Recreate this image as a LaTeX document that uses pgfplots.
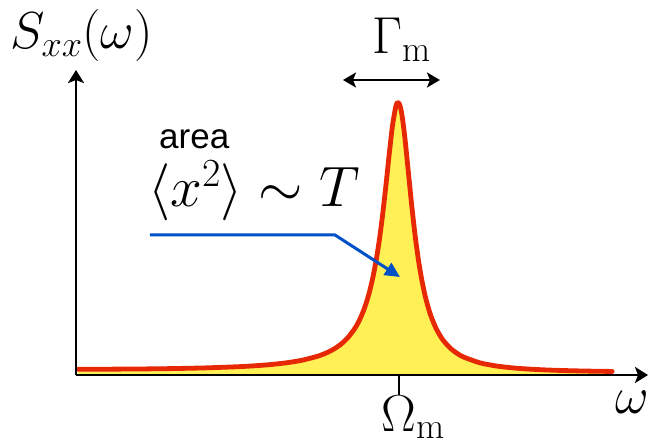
\RequirePackage{fix-cm}
\documentclass[border=0pt]{standalone}
\usepackage{fontspec}
\newfontfamily\helv{Liberation Sans}
\usepackage{pgfplots}
\usepackage{pgfplotstable}
\pgfplotsset{compat=1.18}
\usetikzlibrary{arrows.meta}
\definecolor{peakred}{RGB}{230,40,5}
\definecolor{peakyellow}{RGB}{255,240,85}
\definecolor{arrowblue}{RGB}{0,80,200}
\newcommand{\bigmath}{\fontsize{52}{60}\selectfont}

% displacement spectrum, omega in units of Omega_m
\pgfplotstableread{
x y
0.006 5.76
0.1 5.83
0.2 6.04
0.3 6.43
0.4 7.11
0.5 8.26
0.55 9.15
0.6 10.37
0.65 12.13
0.7 14.76
0.75 18.95
0.78 22.78
0.8 26.24
0.82 30.73
0.84 36.74
0.86 44.97
0.87 50.2
0.88 56.59
0.89 64.24
0.9 73.5
0.91 84.89
0.92 98.9
0.93 116.0
0.94 137.0
0.95 162.1
0.96 190.9
0.97 221.7
0.98 249.7
0.99 268.4
0.995 272.4
1.0 271.9
1.005 267.1
1.01 258.2
1.015 246.1
1.02 231.8
1.03 199.5
1.04 167.6
1.05 139.2
1.06 115.4
1.07 96.0
1.08 80.5
1.09 68.0
1.1 58.0
1.115 46.4
1.13 37.9
1.14 33.4
1.16 26.5
1.18 21.6
1.2 17.95
1.25 12.2
1.3 9.07
1.35 7.17
1.4 5.95
1.45 5.13
1.5 4.55
1.55 4.13
1.6 3.82
1.66 3.55
}\spectrum

\begin{document}
\begin{tikzpicture}
\begin{axis}[
  scale only axis, width=572pt, height=305pt,
  xmin=0, xmax=1.7709, ymin=0, ymax=305,
  axis lines=left, axis on top, clip=false,
  axis line style={line width=2.5pt, black},
  every outer x axis line/.append style={-{Stealth[length=13pt,width=16pt,inset=3pt]}},
  every outer y axis line/.append style={-{Stealth[length=13pt,width=16pt,inset=3pt]}},
  xtick={1}, xticklabels={}, ytick=\empty,
  tick align=outside, major tick length=20pt,
  tick style={line width=2.5pt, black},
]
\addplot[draw=none, fill=peakyellow, smooth, tension=0.4] table[x=x, y=y] {\spectrum} \closedcycle;
\addplot[peakred, line width=4.8pt, line cap=round, line join=round, smooth, tension=0.4] table[x=x, y=y] {\spectrum};

\node[anchor=base west, font=\bigmath, inner sep=0pt] at (axis cs:-0.2043,326) {$S_{xx}(\omega)$};
\node[anchor=base west, font=\bigmath, inner sep=0pt] at (axis cs:0.9164,321) {$\Gamma_{\mathrm{m}}$};
\draw[line width=2.2pt, {Stealth[length=13pt,width=15pt,inset=3pt]}-{Stealth[length=13pt,width=15pt,inset=3pt]}]
  (axis cs:0.8266,295) -- (axis cs:1.1269,295);
\node[anchor=base west, font=\helv\fontsize{35}{42}\selectfont, inner sep=0pt] at (axis cs:0.257,226) {area};
\node[anchor=base west, font=\fontsize{57}{65}\selectfont, inner sep=0pt] at (axis cs:0.2229,168) {$\langle x^2 \rangle \sim T$};
\draw[arrowblue, line width=3pt, -{Triangle[length=15pt,width=14pt]}]
  (axis cs:0.2291,140) -- (axis cs:0.8019,140) -- (axis cs:1.0031,98);
\node[anchor=base west, font=\bigmath, inner sep=0pt] at (axis cs:1.6687,-38) {$\omega$};
\node[anchor=base, font=\bigmath, inner sep=0pt] at (axis cs:1,-56) {$\Omega_{\makebox[0pt][l]{$\scriptstyle\mathrm{m}$}}$};

\coordinate (bbsw) at (axis cs:-0.2353,-70);
\coordinate (bbne) at (axis cs:1.7740,375);
\end{axis}
\pgfresetboundingbox
\path[use as bounding box] (bbsw) rectangle (bbne);
\end{tikzpicture}
\end{document}
